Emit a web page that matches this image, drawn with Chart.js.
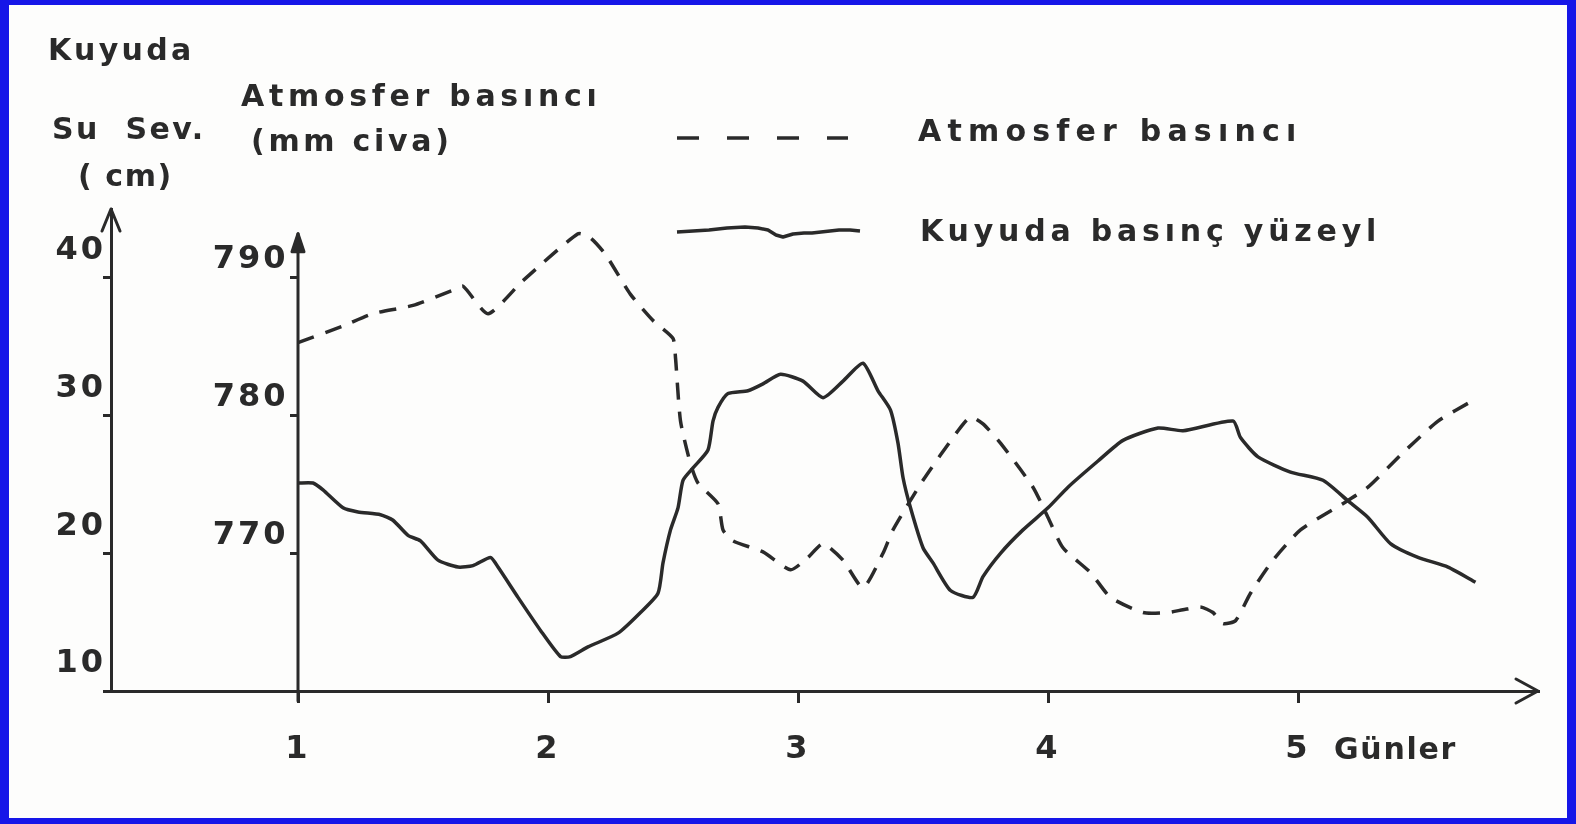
<!DOCTYPE html>
<html lang="tr">
<head>
  <meta charset="UTF-8" />
  <title>Kuyuda su seviyesi ve atmosfer basıncı</title>
  <script src="https://cdn.jsdelivr.net/npm/chart.js"></script>
  <style>
    body {
      margin: 0;
      width: 1576px;
      height: 824px;
      overflow: hidden;
      background: #1616e8;
      font-family: 'DejaVu Sans', sans-serif;
      color: #2a2a2a;
    }
    #frame {
      position: absolute;
      left: 0; top: 0;
      width: 1576px; height: 824px;
      box-sizing: border-box;
      border-style: solid;
      border-color: #1616e8;
      border-width: 5px 9px 6px 9px;
      background: #fdfdfc;
    }
    canvas { position: absolute; left: 0; top: 0; }
    .t {
      position: absolute;
      font-size: 30px;
      font-weight: bold;
      line-height: 36px;
      white-space: pre;
      letter-spacing: 3px;
    }
    svg { position: absolute; left: 0; top: 0; }
  </style>
</head>
<body>
  <div id="frame"></div>
  <canvas id="chart" width="1576" height="824"></canvas>

  <div class="t" style="left:48px; top:32px; letter-spacing:3.3px;">Kuyuda</div>
  <div class="t" style="left:52px; top:111px; letter-spacing:2.4px;">Su  Sev.</div>
  <div class="t" style="left:78px; top:158px; letter-spacing:1.6px;">( cm)</div>
  <div class="t" style="left:241px; top:78px; letter-spacing:4.7px;">Atmosfer basıncı</div>
  <div class="t" style="left:251px; top:123px; letter-spacing:3.7px;">(mm civa)</div>
  <div class="t" style="left:918px; top:113px; letter-spacing:6.2px;">Atmosfer basıncı</div>
  <div class="t" style="left:920px; top:213px; letter-spacing:4.8px;">Kuyuda basınç yüzeyl</div>
  <div class="t" style="left:1334px; top:731px; letter-spacing:1.7px;">Günler</div>

  <!-- legend samples -->
  <svg width="1576" height="824">
    <line x1="677" y1="138" x2="848" y2="138" stroke="#2a2a2a" stroke-width="3.5" stroke-dasharray="22 28" />
    <polyline points="677,232 693,231 709,230 727,228 745,227 758,228 768,230 776,235 783,237 793,234 804,233 812,233 821,232 830,231 839,230 850,230 860,231"
              fill="none" stroke="#2a2a2a" stroke-width="3.5" stroke-linejoin="round" />
  </svg>

  <script>
    // tick values
    const dayTicks = [1, 2, 3, 4, 5];
    const cmTicks = [10, 20, 30, 40];
    const mmTicks = [770, 780, 790];

    // Atmosfer basıncı (mm civa)
    const atmDays = [1.00, 1.18, 1.30, 1.46, 1.62, 1.66, 1.76, 1.90,
      2.12, 2.17, 2.23, 2.33, 2.42, 2.50, 2.51, 2.53, 2.57, 2.60,
      2.68, 2.70, 2.74, 2.86, 2.97, 3.04, 3.10, 3.18, 3.26, 3.34,
      3.38, 3.50, 3.64, 3.69, 3.74, 3.81, 3.94, 4.00, 4.06, 4.17,
      4.25, 4.38, 4.48, 4.54, 4.61, 4.66, 4.70, 4.75, 4.81, 4.90,
      5.01, 5.17, 5.28, 5.42, 5.56, 5.70];
    const atmPressure = [785.3, 786.5, 787.4, 788.0, 789.1, 789.4, 787.4, 789.8,
      793.2, 792.9, 791.7, 788.8, 786.9, 785.6, 784.2, 779.6, 776.5, 775.1,
      773.6, 771.7, 770.9, 770.1, 768.8, 769.7, 770.7, 769.5, 767.5, 770.0,
      771.7, 775.3, 778.9, 779.9, 779.4, 778.0, 774.8, 772.6, 770.4, 768.6,
      766.8, 765.7, 765.7, 765.9, 766.1, 765.7, 764.9, 765.1, 767.1, 769.5,
      771.7, 773.5, 774.8, 777.3, 779.6, 781.1];

    // Kuyuda basınç yüzeyi (cm)
    const wellDays = [1.00, 1.06, 1.10, 1.18, 1.24, 1.33, 1.38, 1.44, 1.49, 1.56, 1.64, 1.70, 1.77, 1.80,
      1.88, 1.97, 2.05, 2.09, 2.16, 2.28, 2.37, 2.44, 2.46, 2.49,
      2.52, 2.54, 2.58, 2.64, 2.66, 2.68, 2.72, 2.80, 2.86, 2.93,
      3.02, 3.10, 3.18, 3.26, 3.32, 3.37, 3.40, 3.42, 3.45, 3.50,
      3.54, 3.61, 3.70, 3.74, 3.81, 3.90, 4.00, 4.08, 4.20, 4.30,
      4.44, 4.54, 4.74, 4.77, 4.84, 4.97, 5.10, 5.20, 5.28, 5.37,
      5.48, 5.60, 5.71];
    const wellLevel = [25.1, 25.1, 24.6, 23.3, 23.0, 22.8, 22.4, 21.3, 20.9, 19.5, 19.0, 19.1, 19.7, 19.0,
      16.8, 14.4, 12.5, 12.5, 13.2, 14.2, 15.7, 17.1, 19.3, 21.7,
      23.3, 25.3, 26.2, 27.5, 29.6, 30.6, 31.6, 31.8, 32.3, 33.0,
      32.5, 31.3, 32.5, 33.8, 31.8, 30.4, 28.0, 25.5, 23.3, 20.4,
      19.3, 17.3, 16.8, 18.3, 20.0, 21.7, 23.3, 24.8, 26.7, 28.2,
      29.1, 28.9, 29.6, 28.4, 27.0, 25.9, 25.3, 23.8, 22.6, 20.7,
      19.7, 19.0, 17.9];

    const ink = '#2a2a2a';
    const mmAxisTop = 793.2;   // where the mm axis arrow ends

    // axis arrows + the second (mm) axis line
    const axisArrows = {
      id: 'axisArrows',
      beforeDraw(chart) {
        chart.ctx.letterSpacing = '3px';
      },
      afterDraw(chart) {
        const ctx = chart.ctx;
        const { left, right, top, bottom } = chart.chartArea;
        const xAt1 = chart.scales.x.getPixelForValue(1);
        const yTop2 = chart.scales.y2.getPixelForValue(mmAxisTop);
        ctx.save();
        ctx.strokeStyle = ink;
        ctx.fillStyle = ink;
        ctx.lineWidth = 3;
        ctx.lineCap = 'round';
        ctx.lineJoin = 'round';
        // cm axis arrow
        ctx.beginPath();
        ctx.moveTo(left - 9, top + 22);
        ctx.lineTo(left, top);
        ctx.lineTo(left + 9, top + 22);
        ctx.stroke();
        // mm axis
        ctx.beginPath();
        ctx.moveTo(xAt1, bottom + 10);
        ctx.lineTo(xAt1, yTop2);
        ctx.stroke();
        ctx.beginPath();
        ctx.moveTo(xAt1 - 6, yTop2 + 18);
        ctx.lineTo(xAt1, yTop2);
        ctx.lineTo(xAt1 + 6, yTop2 + 18);
        ctx.closePath();
        ctx.fill();
        ctx.stroke();
        // x axis arrow
        ctx.beginPath();
        ctx.moveTo(right - 22, bottom - 12);
        ctx.lineTo(right, bottom);
        ctx.lineTo(right - 22, bottom + 12);
        ctx.stroke();
        ctx.restore();
      }
    };

    const tickFont = { family: "'DejaVu Sans', sans-serif", size: 32, weight: 'bold' };

    new Chart(document.getElementById('chart').getContext('2d'), {
      type: 'line',
      data: {
        datasets: [
          {
            label: 'Atmosfer basıncı',
            data: atmDays.map((d, i) => ({ x: d, y: atmPressure[i] })),
            yAxisID: 'y2',
            borderColor: ink,
            borderWidth: 3.5,
            borderDash: [17, 12],
            pointRadius: 0,
            tension: 0.2,
            fill: false
          },
          {
            label: 'Kuyuda basınç yüzeyl',
            data: wellDays.map((d, i) => ({ x: d, y: wellLevel[i] })),
            yAxisID: 'y',
            borderColor: ink,
            borderWidth: 3.5,
            pointRadius: 0,
            tension: 0.2,
            fill: false
          }
        ]
      },
      options: {
        responsive: false,
        animation: false,
        layout: { padding: { left: 11, top: 209, right: 38, bottom: 43 } },
        plugins: { legend: { display: false }, tooltip: { enabled: false } },
        scales: {
          x: {
            type: 'linear',
            position: 'bottom',
            min: 0.252,
            max: 5.96,
            afterFit: s => { s.height = 90; },
            afterBuildTicks: s => { s.ticks = dayTicks.map(v => ({ value: v })); },
            grid: { display: true, drawOnChartArea: false, tickLength: 12, lineWidth: 3, color: ink },
            border: { display: true, width: 3, color: ink },
            ticks: { color: ink, font: tickFont, padding: 27, maxRotation: 0, callback: v => String(v) }
          },
          y: {
            type: 'linear',
            position: 'left',
            min: 10,
            max: 45,
            afterFit: s => { s.width = 100; },
            afterBuildTicks: s => { s.ticks = cmTicks.map(v => ({ value: v })); },
            grid: { display: true, drawOnChartArea: false, tickLength: 8, lineWidth: 3, color: ink },
            border: { display: true, width: 3, color: ink },
            ticks: { color: ink, font: tickFont, padding: -3, labelOffset: -27, callback: v => String(v) }
          },
          y2: {
            type: 'linear',
            position: { x: 1 },
            min: 760,
            max: 795,
            afterBuildTicks: s => { s.ticks = mmTicks.map(v => ({ value: v })); },
            grid: { display: true, drawOnChartArea: false, tickLength: 8, lineWidth: 3, color: ink },
            border: { display: false },
            ticks: { color: ink, font: tickFont, padding: 0, labelOffset: -18, callback: v => v + '\u2009' }
          }
        }
      },
      plugins: [axisArrows]
    });
  </script>
</body>
</html>
